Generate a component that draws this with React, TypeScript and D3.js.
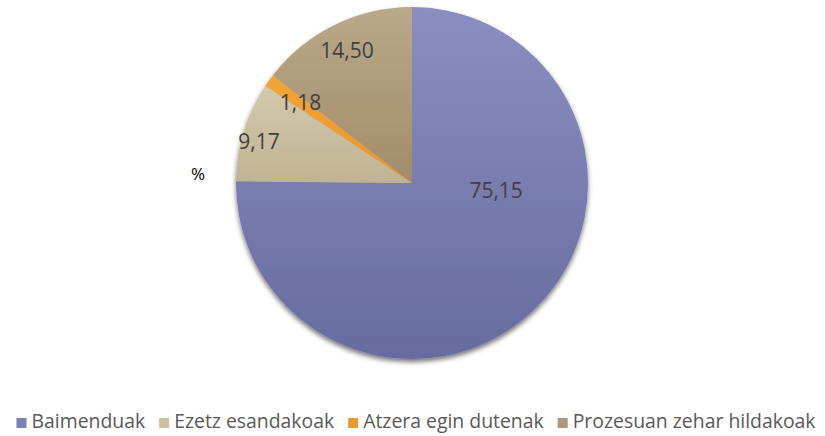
import * as d3 from "d3";
import { useMemo } from "react";

const categories = ["Baimenduak", "Ezetz esandakoak", "Atzera egin dutenak", "Prozesuan zehar hildakoak"];
const values = [75.15, 9.17, 1.18, 14.5];
const labels = ["75,15", "9,17", "1,18", "14,50"];
const gradTop = ["#8b8ec0", "#d3c9ae", "#f2a53a", "#b9a88a"];
const gradBottom = ["#676b9f", "#c0b393", "#e8952a", "#a38c6a"];
const swatch = ["#7c80b4", "#cbbf9f", "#eb9a2c", "#ae9878"];
// Excel "best fit" label placement: fraction of radius and angle shift (deg)
const labelR = [0.48, 0.9, 0.78, 0.84];
const labelShift = [-40, -2, 0, 0];

const width = 825;
const height = 436;
const cx = 412;
const cy = 183;
const radius = 176;
const legendFont = 19.4;
const legendY = 428;

function measure(text: string, size: number) {
  const ctx = document.createElement("canvas").getContext("2d")!;
  ctx.font = `${size}px "Open Sans"`;
  return ctx.measureText(text).width;
}

export default function App() {
  const pie = d3.pie<number>().sort(null).value((d) => d)(values);
  const arc = d3.arc<d3.PieArcDatum<number>>().innerRadius(0).outerRadius(radius);

  const legend = useMemo(() => {
    const box = 10;
    const pad = 5;
    const gap = 14;
    const widths = categories.map((c) => box + pad + measure(c, legendFont));
    const total = d3.sum(widths) + gap * (categories.length - 1);
    let x = 416 - total / 2;
    return widths.map((w) => {
      const pos = x;
      x += w + gap;
      return pos;
    });
  }, []);

  return (
    <svg width={width} height={height} style={{ position: "absolute", left: 0, top: 0 }}>
      <defs>
        {categories.map((c, i) => (
          <linearGradient key={c} id={`g${i}`} x1="0" y1="0" x2="0" y2="1">
            <stop offset="0" stopColor={gradTop[i]} />
            <stop offset="1" stopColor={gradBottom[i]} />
          </linearGradient>
        ))}
        <filter id="shadow" x="-20%" y="-20%" width="140%" height="140%">
          <feDropShadow dx="0" dy="3" stdDeviation="2.5" floodColor="#000" floodOpacity="0.55" />
        </filter>
      </defs>
      <rect width={width} height={height} fill="#fff" />
      <g transform={`translate(${cx},${cy})`}>
        <g filter="url(#shadow)">
          {pie.map((p, i) => (
            <path key={i} d={arc(p) ?? ""} fill={`url(#g${i})`} />
          ))}
        </g>
        {pie.map((p, i) => {
          const a = (p.startAngle + p.endAngle) / 2 + (labelShift[i] * Math.PI) / 180;
          const r = radius * labelR[i];
          return (
            <text
              key={i}
              x={Math.sin(a) * r}
              y={-Math.cos(a) * r}
              dy="0.35em"
              textAnchor="middle"
              fontFamily="Open Sans"
              fontSize={21}
              fill="#404040"
            >
              {labels[i]}
            </text>
          );
        })}
      </g>
      <text x={198} y={174} dy="0.35em" textAnchor="middle" fontFamily="Open Sans" fontSize={17} fill="#000">
        %
      </text>
      {categories.map((c, i) => (
        <g key={c} transform={`translate(${legend[i]},0)`}>
          <rect x={0} y={legendY - 10} width={10} height={10} fill={swatch[i]} />
          <text x={15} y={legendY} fontFamily="Open Sans" fontSize={legendFont} fill="#595959">
            {c}
          </text>
        </g>
      ))}
    </svg>
  );
}
